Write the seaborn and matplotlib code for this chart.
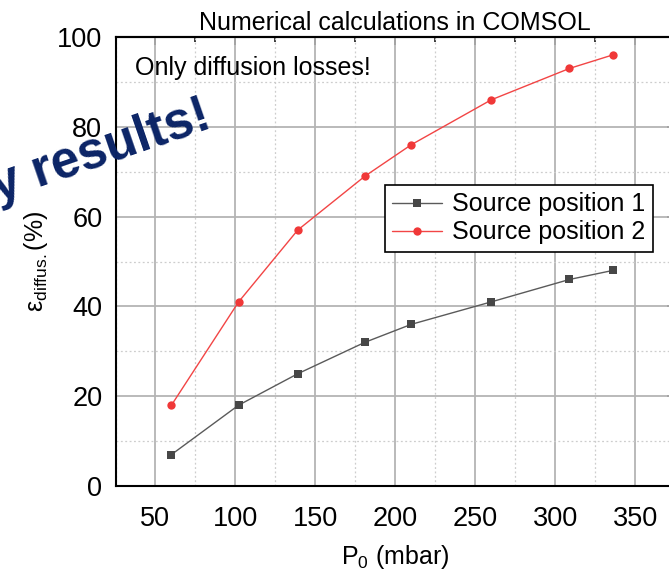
import numpy as np
import pandas as pd
import matplotlib
matplotlib.use("Agg")
import matplotlib.pyplot as plt
from matplotlib.ticker import MultipleLocator
import seaborn as sns

# Pressure P0 (mbar) and diffusion efficiency (%) for the two source positions
pressure = [60, 102, 139, 181, 210, 260, 309, 336]
eff_pos1 = [7, 18, 25, 32, 36, 41, 46, 48]
eff_pos2 = [18, 41, 57, 69, 76, 86, 93, 96]
series_names = ["Source position 1", "Source position 2"]

x_ticks = [50, 100, 150, 200, 250, 300, 350]
y_ticks = [0, 20, 40, 60, 80, 100]

df = pd.DataFrame({
    "P0": pressure * 2,
    "eff": eff_pos1 + eff_pos2,
    "series": [series_names[0]] * len(pressure) + [series_names[1]] * len(pressure),
})

sns.set_style("white")
plt.rcParams["font.family"] = ["Liberation Sans", "DejaVu Sans"]
plt.rcParams["mathtext.fontset"] = "custom"
plt.rcParams["mathtext.rm"] = "Liberation Sans"
plt.rcParams["mathtext.it"] = "Liberation Sans:italic"
for key in ["text.color", "axes.labelcolor", "xtick.color", "ytick.color", "axes.edgecolor"]:
    plt.rcParams[key] = "black"

W, H = 669, 576
fig = plt.figure(figsize=(W / 100, H / 100), dpi=100)
ax_l, ax_r, ax_t, ax_b = 115.5, 675, 37, 486
ax = fig.add_axes([ax_l / W, 1 - ax_b / H, (ax_r - ax_l) / W, (ax_b - ax_t) / H])

styles = {
    series_names[0]: dict(line="#5a5a5a", face="#474747", marker="s", ms=5.2),
    series_names[1]: dict(line="#f24545", face="#f03838", marker="o", ms=6.0),
}
for name in series_names:
    st = styles[name]
    sub = df[df["series"] == name]
    sns.lineplot(data=sub, x="P0", y="eff", ax=ax, color=st["line"], lw=1.0,
                 marker=st["marker"], markersize=st["ms"],
                 markerfacecolor=st["face"], markeredgecolor=st["face"],
                 markeredgewidth=0, label=name, zorder=3)

ax.set_xlim(25, 375)
ax.set_ylim(0, 100)
ax.set_xticks(x_ticks)
ax.set_yticks(y_ticks)
ax.xaxis.set_minor_locator(MultipleLocator(25))
ax.yaxis.set_minor_locator(MultipleLocator(10))

ax.grid(True, which="major", color="#b4b4b4", lw=1.3, ls="-", zorder=0)
ax.grid(True, which="minor", color="#cdcdcd", lw=0.9, ls=(0, (1.5, 2.0)), zorder=0)
ax.set_axisbelow(True)

for side in ["left", "bottom", "top", "right"]:
    ax.spines[side].set_visible(True)
    ax.spines[side].set_color("black")
    ax.spines[side].set_linewidth(1.5)

ax.tick_params(which="major", direction="out", length=6.5, width=1.3,
               labelsize=19.5, color="black", labelcolor="black", pad=3)
ax.tick_params(which="minor", direction="out", length=3.5, width=1.1, color="black")
ax.tick_params(axis="x", which="major", pad=8)
ax.tick_params(top=False, right=False, which="both")

# mirrored ticks pointing inward on the top and right edges
top = ax.secondary_xaxis("top")
top.set_xticks(x_ticks)
top.xaxis.set_minor_locator(MultipleLocator(25))
top.tick_params(which="major", direction="in", length=6, width=1.3, labeltop=False)
top.tick_params(which="minor", direction="in", length=3.5, width=1.1)
top.spines["top"].set_linewidth(1.5)

right = ax.secondary_yaxis("right")
right.set_yticks(y_ticks)
right.yaxis.set_minor_locator(MultipleLocator(10))
right.tick_params(which="major", direction="in", length=6, width=1.3, labelright=False)
right.tick_params(which="minor", direction="in", length=3.5, width=1.1)

ax.set_xlabel("P$_0$ (mbar)", fontsize=18, labelpad=8)
ax.set_ylabel("ε$_{\\mathrm{diffus.}}$(%)", fontsize=18, labelpad=5)
ax.set_title("Numerical calculations in COMSOL", fontsize=18, pad=5)

ax.text(0.035, 0.915, "Only diffusion losses!", transform=ax.transAxes,
        fontsize=18, ha="left", va="baseline")

leg = ax.legend(loc="upper right", bbox_to_anchor=((653 - ax_l) / (ax_r - ax_l), (ax_b - 185) / (ax_b - ax_t)),
                borderaxespad=0, fontsize=18, frameon=True, fancybox=False,
                framealpha=1, edgecolor="black", handlelength=2.0, handletextpad=0.4,
                borderpad=0.3, labelspacing=0.15)
leg.get_frame().set_linewidth(1.2)

fig.text(213 / W, 1 - 127 / H, "y results!", fontsize=37, fontweight="bold",
         color="#0b2466", rotation=19, rotation_mode="anchor",
         ha="right", va="baseline", zorder=10)

fig.savefig("out.png", dpi=100)
